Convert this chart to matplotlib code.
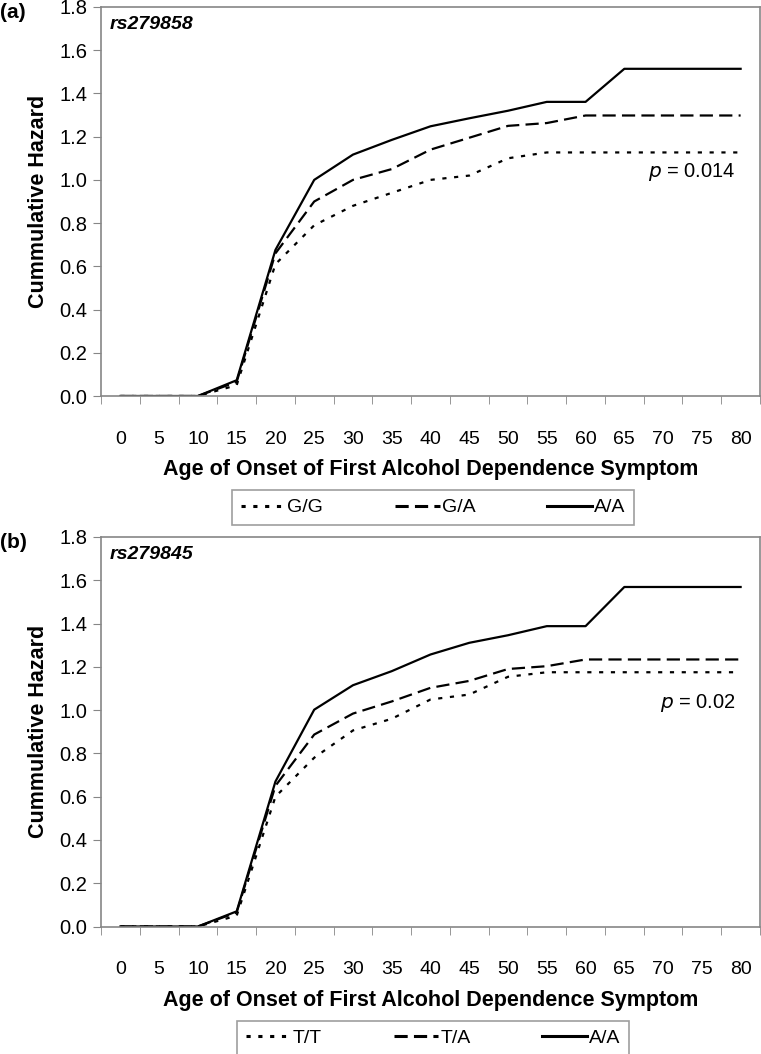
import matplotlib
matplotlib.use("Agg")
import matplotlib.pyplot as plt
import numpy as np

plt.rcParams["font.family"] = ["Liberation Sans", "DejaVu Sans"]
plt.rcParams["lines.scale_dashes"] = False

# Age categories (x axis)
ages = [0, 5, 10, 15, 20, 25, 30, 35, 40, 45, 50, 55, 60, 65, 70, 75, 80]

# Panel (a) rs279858
a_gg = [0, 0, 0, 0.05, 0.61, 0.79, 0.88, 0.94, 1.00, 1.02, 1.10, 1.127, 1.127, 1.127, 1.127, 1.127, 1.127]
a_ga = [0, 0, 0, 0.065, 0.66, 0.90, 1.00, 1.05, 1.14, 1.195, 1.25, 1.263, 1.298, 1.298, 1.298, 1.298, 1.298]
a_aa = [0, 0, 0, 0.073, 0.676, 1.00, 1.117, 1.185, 1.248, 1.285, 1.32, 1.361, 1.361, 1.514, 1.514, 1.514, 1.514]

# Panel (b) rs279845
b_tt = [0, 0, 0, 0.05, 0.60, 0.78, 0.906, 0.96, 1.049, 1.072, 1.154, 1.175, 1.175, 1.175, 1.175, 1.175, 1.175]
b_ta = [0, 0, 0, 0.065, 0.65, 0.887, 0.984, 1.04, 1.103, 1.135, 1.19, 1.203, 1.234, 1.234, 1.234, 1.234, 1.234]
b_aa = [0, 0, 0, 0.07, 0.67, 1.002, 1.115, 1.18, 1.257, 1.311, 1.346, 1.388, 1.388, 1.569, 1.569, 1.569, 1.569]

panels = [
    ("(a)", "rs279858", ["G/G", "G/A", "A/A"], [a_gg, a_ga, a_aa], "0.014"),
    ("(b)", "rs279845", ["T/T", "T/A", "A/A"], [b_tt, b_ta, b_aa], "0.02"),
]

grey = "#868686"
styles = [
    dict(linestyle=(0, (3.0, 5.5)), linewidth=1.6),
    dict(linestyle=(0, (9.5, 4.5)), linewidth=1.6),
    dict(linestyle="-", linewidth=1.6),
]

fig = plt.figure(figsize=(7.61, 10.54), dpi=100)
W, H = 761, 1054
boxes = [(7, 396), (537, 926.5)]

x = np.arange(len(ages))
for (tag, snp, labels, series, pval), (top, bot) in zip(panels, boxes):
    ax = fig.add_axes([101 / W, 1 - bot / H, 659 / W, (bot - top) / H])
    for vals, lab, st in zip(series, labels, styles):
        ax.plot(x, vals, color="black", label=lab, **st)

    ax.set_xlim(-0.5, len(ages) - 0.5)
    ax.set_ylim(0, 1.8)
    ax.set_yticks(np.arange(0, 1.81, 0.2))
    ax.set_yticklabels([f"{v:.1f}" for v in np.arange(0, 1.81, 0.2)], fontsize=14.5)
    ax.set_xticks(x)
    ax.set_xticklabels([str(a) for a in ages], fontsize=14)
    ax.set_xticks(np.arange(-0.5, len(ages), 1), minor=True)
    ax.tick_params(axis="x", which="major", length=0, pad=25)
    ax.tick_params(axis="x", which="minor", length=6, color=grey, direction="out")
    ax.tick_params(axis="y", length=6, color=grey, direction="out", pad=4)
    for s in ax.spines.values():
        s.set_color(grey)
        s.set_linewidth(1.2)

    ax.set_ylabel("Cummulative Hazard", fontsize=15.5, fontweight="bold", labelpad=7)
    ax.set_xlabel("Age of Onset of First Alcohol Dependence Symptom", fontsize=15.5, fontweight="bold")
    ax.xaxis.set_label_coords(0.5, -0.162)

    ax.text(0.013, 0.955, snp, transform=ax.transAxes, fontsize=14,
            fontweight="bold", fontstyle="italic", va="center", ha="left")
    ax.text(0.963, 0.575, f"$\\it{{p}}$ = {pval}", transform=ax.transAxes,
            fontsize=14.5, va="center", ha="right")
    fig.text(0.0, 1 - (top + 6) / H, tag, fontsize=15, fontweight="bold", va="center", ha="left")

    leg = ax.legend(loc="center", bbox_to_anchor=(0.504, -0.287), ncol=3, frameon=True,
                    fancybox=False, fontsize=14, handlelength=2.3, handletextpad=0.1,
                    columnspacing=3.7, borderpad=0.45, borderaxespad=0)
    leg.get_frame().set_edgecolor(grey)
    leg.get_frame().set_linewidth(1.2)
    for ln in leg.get_lines():
        ln.set_linewidth(2.2)

fig.savefig("out.png", dpi=100)
